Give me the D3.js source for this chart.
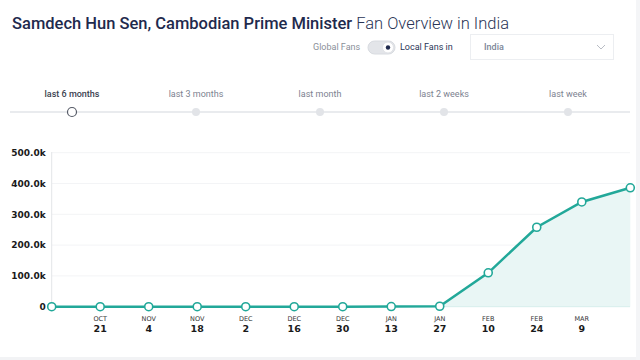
<!DOCTYPE html>
<html><head><meta charset="utf-8">
<script src="https://cdn.jsdelivr.net/npm/d3@7"></script>
<style>
html,body{margin:0;padding:0;background:#fff;}
svg{display:block;}
</style></head>
<body>
<svg id="c" width="640" height="360"></svg>
<script>
const dates = ["2018-10-07","2018-10-21","2018-11-04","2018-11-18","2018-12-02","2018-12-16","2018-12-30","2019-01-13","2019-01-27","2019-02-10","2019-02-24","2019-03-09","2019-03-23"];
const fans = [0, 0, 0, 0, 0, 0, 0, 500, 1500, 110000, 258000, 340000, 386000];
const yTicks = [0, 100000, 200000, 300000, 400000, 500000];
const yTickLabels = ["0", "100.0k", "200.0k", "300.0k", "400.0k", "500.0k"];
const xTickMonths = ["OCT","NOV","NOV","DEC","DEC","DEC","JAN","JAN","FEB","FEB","MAR"];
const xTickDays = ["21","4","18","2","16","30","13","27","10","24","9"];
const periods = ["last 6 months","last 3 months","last month","last 2 weeks","last week"];

const svg = d3.select("#c");
const parse = d3.timeParse("%Y-%m-%d");
const data = dates.map((d,i)=>({date:parse(d), v:fans[i]}));

// page edges
svg.append("rect").attr("x",0).attr("y",0).attr("width",640).attr("height",360).attr("fill","#fff");
svg.append("rect").attr("x",0).attr("y",357).attr("width",640).attr("height",3).attr("fill","#f2f3f5");
svg.append("rect").attr("x",636).attr("y",0).attr("width",4).attr("height",360).attr("fill","#f4f5f7");

// title
const title = svg.append("text").attr("x",12).attr("y",29)
  .attr("font-family","Roboto, sans-serif").attr("font-size",16.5).attr("fill","#1f2a4d");
title.append("tspan").attr("font-weight",500).text("Samdech Hun Sen, Cambodian Prime Minister");
title.append("tspan").attr("font-weight",300).attr("fill","#2a3556").text(" Fan Overview in India");

// toggle
svg.append("text").attr("x",313).attr("y",50).attr("font-family","Roboto, sans-serif")
  .attr("font-size",9).attr("fill","#8a8f99").text("Global Fans");
svg.append("rect").attr("x",368).attr("y",41).attr("width",27).attr("height",13).attr("rx",6.5)
  .attr("fill","#e3e5e9").attr("stroke","#d8dbe0");
svg.append("circle").attr("cx",388).attr("cy",47.5).attr("r",5.5).attr("fill","#fff").attr("stroke","#e0e2e6");
svg.append("circle").attr("cx",388).attr("cy",47.5).attr("r",2.2).attr("fill","#1f2a4d");
svg.append("text").attr("x",400).attr("y",50).attr("font-family","Roboto, sans-serif")
  .attr("font-size",9).attr("fill","#2a3556").text("Local Fans in");
svg.append("rect").attr("x",470.5).attr("y",34.5).attr("width",143).attr("height",25)
  .attr("fill","#fff").attr("stroke","#eceef1");
svg.append("text").attr("x",484).attr("y",50).attr("font-family","Roboto, sans-serif")
  .attr("font-size",9).attr("font-weight",500).attr("fill","#7c8597").text("India");
svg.append("path").attr("d","M597,45 L601,49 L605,45").attr("fill","none").attr("stroke","#b8bcc4").attr("stroke-width",1);

// period selector
const px = d3.scalePoint().domain(periods).range([72, 568]);
svg.append("line").attr("x1",10).attr("x2",630).attr("y1",112).attr("y2",112)
  .attr("stroke","#e2e4e8").attr("stroke-width",1.5);
periods.forEach((p,i)=>{
  svg.append("text").attr("x",px(p)).attr("y",97).attr("text-anchor","middle")
    .attr("font-family","Roboto, sans-serif").attr("font-size",9)
    .attr("font-weight", i===0?500:400)
    .attr("fill", i===0?"#3c4250":"#7d8290").text(p);
  if(i===0){
    svg.append("circle").attr("cx",px(p)).attr("cy",112).attr("r",4.5).attr("fill","#fff")
      .attr("stroke","#555a66").attr("stroke-width",1.2);
  } else {
    svg.append("circle").attr("cx",px(p)).attr("cy",112).attr("r",4).attr("fill","#e2e4e8");
  }
});

// chart
const x = d3.scaleTime().domain(d3.extent(data,d=>d.date)).range([51.7, 630.3]);
const y = d3.scaleLinear().domain([0,500000]).range([306.7, 152.7]);

const grid = svg.append("g");
yTicks.forEach(t=>{
  if(t===0) return;
  grid.append("line").attr("x1",51.7).attr("x2",630).attr("y1",y(t)).attr("y2",y(t))
    .attr("stroke","#f3f4f6").attr("stroke-width",1);
});
svg.append("line").attr("x1",51.7).attr("x2",51.7).attr("y1",152).attr("y2",306.7)
  .attr("stroke","#e3e5e8").attr("stroke-width",1);

const yAxis = d3.axisLeft(y).tickValues(yTicks).tickSize(0).tickPadding(6)
  .tickFormat((d,i)=>yTickLabels[i]);
const ya = svg.append("g").attr("transform","translate(51.7,0)").call(yAxis);
ya.select(".domain").remove();
ya.selectAll("text").attr("font-family","'DejaVu Sans', sans-serif").attr("font-size",9)
  .attr("font-weight","bold").attr("fill","#1a1a1a");

const area = d3.area().x(d=>x(d.date)).y0(y(0)).y1(d=>y(d.v));
svg.append("path").datum(data).attr("d",area).attr("fill","#e9f6f5");
svg.append("line").attr("x1",51.7).attr("x2",630).attr("y1",y(0)).attr("y2",y(0)).attr("stroke","#d7eeec");

const line = d3.line().x(d=>x(d.date)).y(d=>y(d.v));
svg.append("path").datum(data).attr("d",line).attr("fill","none")
  .attr("stroke","#22a899").attr("stroke-width",2.5);
svg.selectAll("circle.pt").data(data).enter().append("circle").attr("class","pt")
  .attr("cx",d=>x(d.date)).attr("cy",d=>y(d.v)).attr("r",4)
  .attr("fill","#fff").attr("stroke","#22a899").attr("stroke-width",1.6);

// x ticks
const tickDates = data.slice(1,12).map(d=>d.date);
const xa = svg.append("g");
tickDates.forEach((d,i)=>{
  xa.append("text").attr("x",x(d)).attr("y",321).attr("text-anchor","middle")
    .attr("font-family","'DejaVu Sans', sans-serif").attr("font-size",6.5).attr("fill","#333")
    .text(xTickMonths[i]);
  xa.append("text").attr("x",x(d)).attr("y",331.5).attr("text-anchor","middle")
    .attr("font-family","'DejaVu Sans', sans-serif").attr("font-size",9.5).attr("font-weight","bold")
    .attr("fill","#1a1a1a").text(xTickDays[i]);
});
</script>
</body></html>
